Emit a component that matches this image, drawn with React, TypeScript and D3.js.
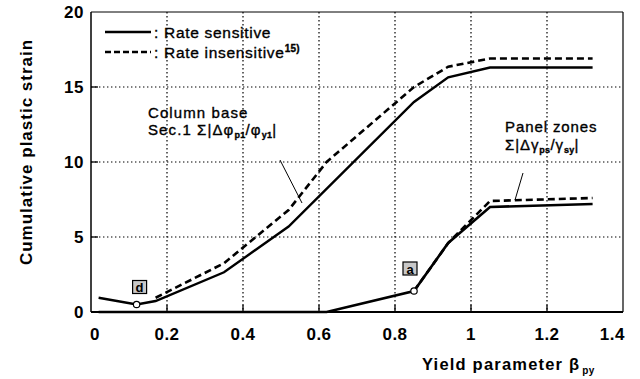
import React from "react";
import * as d3 from "d3";

const xTicks = [0, 0.2, 0.4, 0.6, 0.8, 1.0, 1.2, 1.4];
const xTickLabels = ["0", "0.2", "0.4", "0.6", "0.8", "1", "1.2", "1.4"];
const yTicks = [0, 5, 10, 15, 20];
const yTickLabels = ["0", "5", "10", "15", "20"];

const cbSensBeta = [0.02, 0.12, 0.17, 0.35, 0.52, 0.85, 0.94, 1.05, 1.32];
const cbSensVal = [0.95, 0.5, 0.73, 2.65, 5.7, 14.0, 15.65, 16.3, 16.3];
const cbInsBeta = [0.17, 0.35, 0.52, 0.62, 0.85, 0.94, 1.05, 1.32];
const cbInsVal = [0.95, 3.25, 6.8, 10.0, 15.0, 16.35, 16.9, 16.9];
const pzSensBeta = [0.02, 0.62, 0.85, 0.94, 1.05, 1.32];
const pzSensVal = [0, 0, 1.4, 4.6, 7.0, 7.2];
const pzInsBeta = [0.85, 0.94, 1.05, 1.32];
const pzInsVal = [1.4, 4.6, 7.4, 7.6];

const markD = { beta: 0.12, val: 0.5, label: "d" };
const markA = { beta: 0.85, val: 1.4, label: "a" };

const W = 640, H = 379;
const L = 91, R = 623, T = 12, B = 312;
const FONT = "'Liberation Sans', Arial, sans-serif";

export default function App() {
  const x = d3.scaleLinear().domain([0, 1.4]).range([L, R]);
  const y = d3.scaleLinear().domain([0, 20]).range([B, T]);
  const line = d3.line<[number, number]>().x(d => x(d[0])).y(d => y(d[1]));
  const zip = (a: number[], b: number[]) => a.map((v, i) => [v, b[i]] as [number, number]);

  const box = (m: { beta: number; val: number; label: string }, dx: number, dy: number) => {
    const cx = x(m.beta) + dx, cy = y(m.val) + dy;
    return (
      <g>
        <rect x={cx - 7} y={cy - 7} width={14} height={13} fill="#c8c8c8" stroke="#000" strokeWidth={1.2} />
        <text x={cx} y={cy + 4.5} textAnchor="middle" fontSize={13} fontWeight="bold" fontFamily={FONT}>{m.label}</text>
      </g>
    );
  };

  const ann = { fontFamily: FONT, fontSize: 15, letterSpacing: 1.1, stroke: "#000", strokeWidth: 0.35 } as any;

  return (
    <svg width={W} height={H} style={{ position: "absolute", left: 0, top: 0, background: "#fff" }}>
      {/* grid */}
      {xTicks.slice(1, -1).map(t => (
        <line key={"gx" + t} x1={x(t)} x2={x(t)} y1={T} y2={B} stroke="#000" strokeWidth={1.2} strokeDasharray="1.4,2.6" />
      ))}
      {yTicks.slice(1, -1).map(t => (
        <line key={"gy" + t} x1={L} x2={R} y1={y(t)} y2={y(t)} stroke="#000" strokeWidth={1.2} strokeDasharray="1.4,2.6" />
      ))}
      {/* inner ticks */}
      {xTicks.slice(1, -1).map(t => (
        <line key={"tx" + t} x1={x(t)} x2={x(t)} y1={B} y2={B - 7} stroke="#000" strokeWidth={1.3} />
      ))}
      {yTicks.slice(1, -1).map(t => (
        <line key={"ty" + t} x1={L} x2={L + 7} y1={y(t)} y2={y(t)} stroke="#000" strokeWidth={1.3} />
      ))}
      {/* frame */}
      <line x1={L} x2={R} y1={T} y2={T} stroke="#000" strokeWidth={1} />
      <line x1={R} x2={R} y1={T} y2={B} stroke="#000" strokeWidth={1.2} />
      <line x1={L} x2={L} y1={T} y2={B} stroke="#000" strokeWidth={1.5} />
      <line x1={L} x2={R} y1={B} y2={B} stroke="#000" strokeWidth={2} />

      {/* tick labels */}
      {xTicks.map((t, i) => (
        <text key={"lx" + t} x={i === 0 ? x(t) - 1 : i === xTicks.length - 1 ? x(t) + 2 : x(t)} y={340}
          textAnchor={i === 0 ? "start" : i === xTicks.length - 1 ? "end" : "middle"}
          fontSize={17} fontWeight="bold" fontFamily={FONT} letterSpacing={0.5}>{xTickLabels[i]}</text>
      ))}
      {yTicks.map((t, i) => (
        <text key={"ly" + t} x={84} y={y(t) + 6} textAnchor="end" fontSize={17} fontWeight="bold" fontFamily={FONT} letterSpacing={0.5}>{yTickLabels[i]}</text>
      ))}

      {/* axis titles */}
      <text transform={`translate(32,152) rotate(-90)`} textAnchor="middle" fontSize={17} fontWeight="bold" fontFamily={FONT} letterSpacing={1}>Cumulative plastic strain</text>
      <text x={422} y={370} fontSize={16.5} fontWeight="bold" fontFamily={FONT} letterSpacing={1.2}>Yield parameter β<tspan fontSize={10} dy={4} dx={2} letterSpacing={0.5}>py</tspan></text>

      {/* curves */}
      <path d={line(zip(pzSensBeta, pzSensVal)) || ""} fill="none" stroke="#000" strokeWidth={2.6} />
      <path d={line(zip(pzInsBeta, pzInsVal)) || ""} fill="none" stroke="#000" strokeWidth={2.6} strokeDasharray="7,4" />
      <path d={line(zip(cbSensBeta, cbSensVal)) || ""} fill="none" stroke="#000" strokeWidth={2.4} />
      <path d={line(zip(cbInsBeta, cbInsVal)) || ""} fill="none" stroke="#000" strokeWidth={2.6} strokeDasharray="7,4" />

      {/* markers */}
      <circle cx={x(markD.beta)} cy={y(markD.val)} r={3.2} fill="#fff" stroke="#000" strokeWidth={1.2} />
      <circle cx={x(markA.beta)} cy={y(markA.val)} r={3.2} fill="#fff" stroke="#000" strokeWidth={1.2} />
      {box(markD, 3, -17)}
      {box(markA, -4, -22)}

      {/* legend */}
      <line x1={105} x2={151} y1={32} y2={32} stroke="#000" strokeWidth={2.6} />
      <line x1={105} x2={151} y1={52} y2={52} stroke="#000" strokeWidth={2.6} strokeDasharray="6,3" />
      <text x={154} y={38} {...ann} fontSize={15.5} letterSpacing={0.7}>: Rate sensitive</text>
      <text x={154} y={58} {...ann} fontSize={15.5} letterSpacing={0.7}>: Rate insensitive<tspan fontSize={10} dy={-6} fontWeight="bold" letterSpacing={0.3}>15)</tspan></text>

      {/* annotations */}
      <text x={148} y={118} {...ann}>Column base</text>
      <text x={148} y={135} {...ann}>Sec.1  Σ|Δφ<tspan fontSize={9} dy={3} fontWeight="bold" letterSpacing={0.3}>p1</tspan><tspan dy={-3}>/φ</tspan><tspan fontSize={9} dy={3} fontWeight="bold" letterSpacing={0.3}>y1</tspan><tspan dy={-3}>|</tspan></text>
      <line x1={280} y1={160} x2={302} y2={203} stroke="#000" strokeWidth={1} />

      <text x={505} y={132} {...ann} letterSpacing={0.9}>Panel zones</text>
      <text x={505} y={150} {...ann} letterSpacing={0.9}>Σ|Δγ<tspan fontSize={9} dy={3} fontWeight="bold" letterSpacing={0.3}>ps</tspan><tspan dy={-3}>/γ</tspan><tspan fontSize={9} dy={3} fontWeight="bold" letterSpacing={0.3}>sy</tspan><tspan dy={-3}>|</tspan></text>
      <line x1={523} y1={173} x2={515} y2={200} stroke="#000" strokeWidth={1} />
    </svg>
  );
}
